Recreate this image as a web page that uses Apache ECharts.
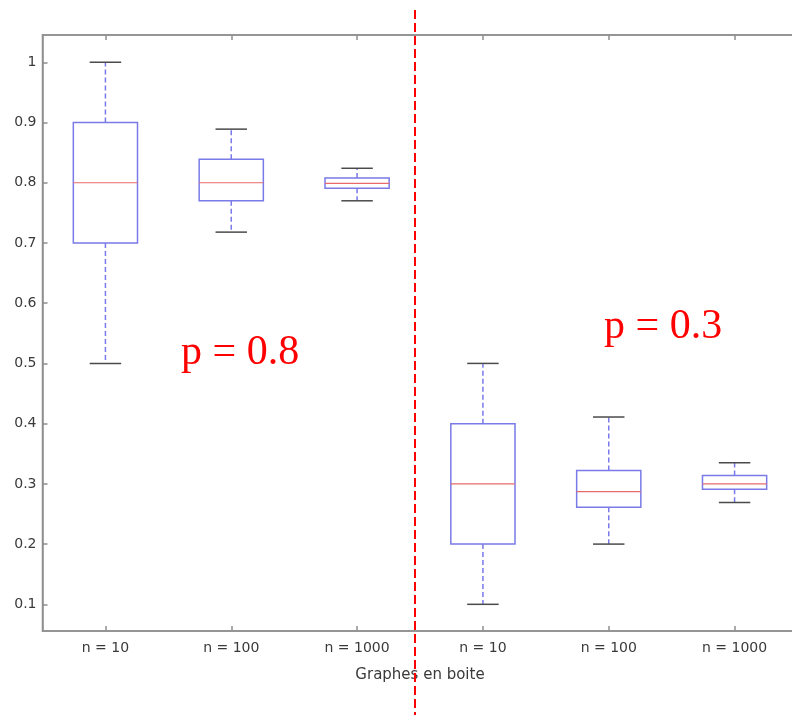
<!DOCTYPE html>
<html>
<head>
<meta charset="utf-8">
<script src="https://cdn.jsdelivr.net/npm/echarts@6/dist/echarts.min.js"></script>
<style>
  html, body { margin: 0; padding: 0; background: #ffffff; }
  #chart { width: 792px; height: 715px; }
</style>
</head>
<body>
<div id="chart"></div>
<script>
// ---- Data ----
const categories   = ['n = 10', 'n = 100', 'n = 1000', 'n = 10', 'n = 100', 'n = 1000'];
const lowWhisker   = [0.50, 0.718, 0.770, 0.10, 0.200, 0.269];
const quartile1    = [0.70, 0.770, 0.791, 0.20, 0.261, 0.291];
const medians      = [0.80, 0.800, 0.799, 0.30, 0.287, 0.300];
const quartile3    = [0.90, 0.839, 0.808, 0.40, 0.322, 0.314];
const highWhisker  = [1.00, 0.889, 0.824, 0.50, 0.411, 0.335];
const yTickValues  = [0.1, 0.2, 0.3, 0.4, 0.5, 0.6, 0.7, 0.8, 0.9, 1];
const annotations  = ['p = 0.8', 'p = 0.3'];
const axisTitle    = 'Graphes en boite';

const boxData = categories.map((c, i) =>
  [i, lowWhisker[i], quartile1[i], medians[i], quartile3[i], highWhisker[i]]);

const chart = echarts.init(document.getElementById('chart'), null, { renderer: 'canvas' });

const axisGray = '#8e8e8e';
const boxBlue = '#7a7ae8';
const medRed = '#e86a6a';
const capColor = '#4a4a4a';

function renderBox(params, api) {
  const x = api.value(0);
  const lo = api.coord([x, api.value(1)]);
  const q1 = api.coord([x, api.value(2)]);
  const md = api.coord([x, api.value(3)]);
  const q3 = api.coord([x, api.value(4)]);
  const hi = api.coord([x, api.value(5)]);
  const band = api.size([1, 0])[0];
  const bw = band * 0.51;
  const cw = band * 0.25;
  const cx = md[0];
  return {
    type: 'group',
    children: [
      { type: 'line', shape: { x1: cx, y1: q3[1], x2: cx, y2: hi[1] },
        style: { stroke: boxBlue, lineWidth: 1.5, lineDash: [5, 3] } },
      { type: 'line', shape: { x1: cx, y1: q1[1], x2: cx, y2: lo[1] },
        style: { stroke: boxBlue, lineWidth: 1.5, lineDash: [5, 3] } },
      { type: 'line', shape: { x1: cx - cw / 2, y1: hi[1], x2: cx + cw / 2, y2: hi[1] },
        style: { stroke: capColor, lineWidth: 1.5 } },
      { type: 'line', shape: { x1: cx - cw / 2, y1: lo[1], x2: cx + cw / 2, y2: lo[1] },
        style: { stroke: capColor, lineWidth: 1.5 } },
      { type: 'rect', shape: { x: cx - bw / 2, y: q3[1], width: bw, height: q1[1] - q3[1] },
        style: { fill: 'none', stroke: boxBlue, lineWidth: 1.5 } },
      { type: 'line', shape: { x1: cx - bw / 2, y1: md[1], x2: cx + bw / 2, y2: md[1] },
        style: { stroke: medRed, lineWidth: 1.2 } }
    ]
  };
}

const option = {
  backgroundColor: '#ffffff',
  animation: false,
  grid: {
    left: 42.5, top: 35, width: 755, height: 596,
    outerBoundsMode: 'none', containLabel: false,
    show: true, borderColor: axisGray, borderWidth: 1.5
  },
  xAxis: [
    {
      type: 'category',
      data: categories,
      boundaryGap: true,
      position: 'bottom',
      name: axisTitle,
      nameLocation: 'middle',
      nameGap: 37,
      nameTextStyle: { fontFamily: 'DejaVu Sans', fontSize: 15, color: '#3a3a3a' },
      axisLine: { show: true, lineStyle: { color: axisGray, width: 1.5 } },
      axisTick: { show: true, inside: true, alignWithLabel: true, length: 5, lineStyle: { color: axisGray, width: 1.5 } },
      axisLabel: { fontFamily: 'DejaVu Sans', fontSize: 14, color: '#3a3a3a', margin: 10, interval: 0 },
      splitLine: { show: false }
    },
    {
      type: 'category',
      data: categories,
      boundaryGap: true,
      position: 'top',
      axisLine: { show: true, lineStyle: { color: axisGray, width: 1.5 } },
      axisTick: { show: true, inside: true, alignWithLabel: true, length: 5, lineStyle: { color: axisGray, width: 1.5 } },
      axisLabel: { show: false },
      splitLine: { show: false }
    }
  ],
  yAxis: {
    type: 'value',
    min: 0.0557,
    max: 1.0453,
    splitNumber: 10,
    axisLine: { show: true, lineStyle: { color: axisGray, width: 1.5 } },
    axisTick: {
      show: true, inside: true, length: 5,
      lineStyle: { color: axisGray, width: 1.5 },
      customValues: yTickValues
    },
    axisLabel: {
      fontFamily: 'DejaVu Sans', fontSize: 14, color: '#3a3a3a', margin: 6,
      customValues: yTickValues,
      formatter: v => String(Math.round(v * 10) / 10)
    },
    splitLine: { show: false }
  },
  series: [{
    type: 'custom',
    renderItem: renderBox,
    encode: { x: 0, y: [1, 2, 3, 4, 5] },
    data: boxData,
    z: 3
  }],
  graphic: [
    { type: 'line', shape: { x1: 415, y1: 10, x2: 415, y2: 715 },
      style: { stroke: '#ff0000', lineWidth: 2, lineDash: [9, 4] }, z: 10 },
    { type: 'text', x: 181, y: 332,
      style: { text: annotations[0], fill: '#ff0000', font: '42px "Liberation Serif", "DejaVu Serif", serif',
               textAlign: 'left', verticalAlign: 'top' }, z: 10 },
    { type: 'text', x: 604, y: 306,
      style: { text: annotations[1], fill: '#ff0000', font: '42px "Liberation Serif", "DejaVu Serif", serif',
               textAlign: 'left', verticalAlign: 'top' }, z: 10 }
  ]
};

chart.setOption(option);
</script>
</body>
</html>
